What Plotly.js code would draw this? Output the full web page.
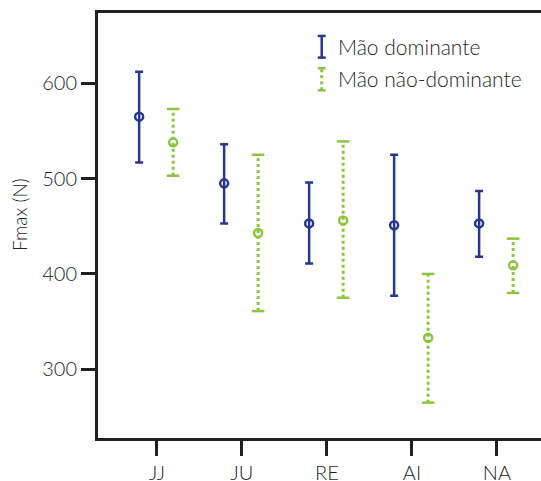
<!DOCTYPE html>
<html>
<head>
<meta charset="utf-8">
<script src="https://cdn.plot.ly/plotly-3.0.1.min.js"></script>
<style>
  html, body { margin: 0; padding: 0; background: #ffffff; }
  #chart { width: 541px; height: 481px; }
</style>
</head>
<body>
<div id="chart"></div>
<script>
// ---- data ----
const categories = ['JJ', 'JU', 'RE', 'AI', 'NA'];
const domMean  = [565, 495, 453, 451, 453];
const domUpper = [612, 536, 496, 525, 487];
const domLower = [517, 453, 411, 377, 418];
const ndMean   = [538, 443, 456, 333, 409];
const ndUpper  = [573, 525, 539, 400, 437];
const ndLower  = [503, 361, 375, 265, 380];
const seriesNames = ['Mão dominante', 'Mão não-dominante'];
const yTicks = [300, 400, 500, 600];
const yTitle = 'Fmax (N)';

// ---- styles ----
const BLUE = '#26378f';
const GREEN = '#8cc63f';
const TEXT = '#231f20';
const FONT = 'Lato, "Open Sans", sans-serif';
const W = 300;
const offDom = -0.21, offNd = 0.19;

const idx = categories.map((c, i) => i);
const xDom = idx.map(i => i + offDom);
const xNd = idx.map(i => i + offNd);

const traces = [];

// Dominant hand: solid error bars
traces.push({
  type: 'scatter', mode: 'markers', x: xDom, y: domMean, showlegend: false,
  marker: { symbol: 'circle-open', size: 8, color: BLUE, line: { width: 2.5, color: BLUE } },
  error_y: {
    type: 'data', symmetric: false,
    array: domUpper.map((u, i) => u - domMean[i]),
    arrayminus: domMean.map((m, i) => m - domLower[i]),
    color: BLUE, thickness: 2.5, width: 4
  },
  hoverinfo: 'skip'
});

// Non-dominant hand: dotted error bars (line trace)
const lx = [], ly = [];
idx.forEach(i => { lx.push(xNd[i], xNd[i], null); ly.push(ndLower[i], ndUpper[i], null); });
traces.push({
  type: 'scatter', mode: 'lines', x: lx, y: ly, showlegend: false,
  line: { color: GREEN, width: 3, dash: 'dot' }, hoverinfo: 'skip', connectgaps: false
});
// caps
traces.push({
  type: 'scatter', mode: 'markers', showlegend: false,
  x: xNd.concat(xNd), y: ndLower.concat(ndUpper),
  marker: { symbol: 'line-ew-open', size: 9, color: GREEN, line: { width: 2.5, color: GREEN } },
  hoverinfo: 'skip'
});
// centres
traces.push({
  type: 'scatter', mode: 'markers', x: xNd, y: ndMean, showlegend: false,
  marker: { symbol: 'circle-open', size: 8, color: GREEN, line: { width: 2.5, color: GREEN } },
  hoverinfo: 'skip'
});

// custom legend (paper coordinates)
const shapes = [
  { type: 'line', xref: 'paper', yref: 'paper', x0: 0.505, x1: 0.505, y0: 0.895, y1: 0.946, line: { color: BLUE, width: 2.5 } },
  { type: 'line', xref: 'paper', yref: 'paper', x0: 0.496, x1: 0.514, y0: 0.946, y1: 0.946, line: { color: BLUE, width: 2.5 } },
  { type: 'line', xref: 'paper', yref: 'paper', x0: 0.496, x1: 0.514, y0: 0.895, y1: 0.895, line: { color: BLUE, width: 2.5 } },
  { type: 'line', xref: 'paper', yref: 'paper', x0: 0.505, x1: 0.505, y0: 0.818, y1: 0.870, line: { color: GREEN, width: 3, dash: 'dot' } },
  { type: 'line', xref: 'paper', yref: 'paper', x0: 0.496, x1: 0.514, y0: 0.870, y1: 0.870, line: { color: GREEN, width: 2.5 } },
  { type: 'line', xref: 'paper', yref: 'paper', x0: 0.496, x1: 0.514, y0: 0.818, y1: 0.818, line: { color: GREEN, width: 2.5 } }
];
const annotations = [
  { xref: 'paper', yref: 'paper', x: 0.537, y: 0.920, xanchor: 'left', yanchor: 'middle', showarrow: false,
    text: seriesNames[0], font: { family: FONT, size: 21, color: TEXT, weight: W } },
  { xref: 'paper', yref: 'paper', x: 0.537, y: 0.845, xanchor: 'left', yanchor: 'middle', showarrow: false,
    text: seriesNames[1], font: { family: FONT, size: 21, color: TEXT, weight: W } },
  { xref: 'paper', yref: 'paper', x: -0.176, y: 0.525, xanchor: 'center', yanchor: 'middle', showarrow: false,
    textangle: -90, text: yTitle, font: { family: FONT, size: 19, color: TEXT, weight: W } }
];

const layout = {
  width: 541, height: 481,
  margin: { l: 98, r: 0, t: 13, b: 43 },
  paper_bgcolor: '#ffffff', plot_bgcolor: '#ffffff',
  showlegend: false,
  font: { family: FONT, color: TEXT, size: 19, weight: W },
  xaxis: {
    range: [-0.694, 4.518], tickmode: 'array', tickvals: idx, ticktext: categories,
    showgrid: false, zeroline: false, showline: true, mirror: true, linecolor: TEXT, linewidth: 3,
    ticks: 'outside', ticklen: 15, tickwidth: 3, tickcolor: TEXT,
    tickfont: { family: FONT, size: 20, color: TEXT, weight: W }
  },
  yaxis: {
    range: [227.9, 673.7], tickmode: 'array', tickvals: yTicks,
    showgrid: false, zeroline: false, showline: true, mirror: false, linecolor: TEXT, linewidth: 3,
    ticks: 'outside', ticklen: 14, tickwidth: 3, tickcolor: TEXT,
    tickfont: { family: FONT, size: 20, color: TEXT, weight: W }
  },
  shapes: shapes,
  annotations: annotations
};

Plotly.newPlot('chart', traces, layout, { displayModeBar: false, staticPlot: true });
</script>
</body>
</html>
